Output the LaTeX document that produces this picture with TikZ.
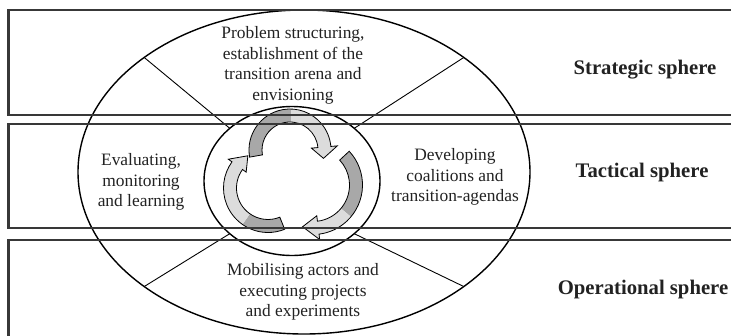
\documentclass[tikz,border=0pt]{standalone}
\usepackage{fontspec}
\setmainfont{Liberation Serif}
\usetikzlibrary{calc}

\definecolor{bandline}{HTML}{383838}
\definecolor{ribbondark}{HTML}{A8A8A8}
\definecolor{ribbonlight}{HTML}{DCDCDC}
\definecolor{inktext}{HTML}{222222}

\tikzset{
  band/.style={draw=bandline, line width=2.2pt},
  ring/.style={draw=black, line width=1.4pt},
  spoke/.style={draw=black, line width=0.9pt},
  ribbonedge/.style={draw=black, line width=0.8pt, line join=miter},
  phasetext/.style={align=center, text=inktext, inner sep=0pt,
    font=\fontsize{17.4}{20.5}\selectfont},
  spheretext/.style={text=inktext, inner sep=0pt,
    font=\fontsize{20.7}{24}\selectfont\bfseries},
}

% Curved two-tone ribbon arrow around a centre point.
% #1,#2 centre; #3 start angle; #4 colour change angle; #5 end of shaft;
% #6 angle of the tip; #7 mid radius; #8 half shaft width; #9 half head width
\newcommand{\ribbonarrow}[9]{%
  \begin{scope}[shift={(#1,#2)}]
    \fill[ribbondark] (#3:{#7+#8}) arc[start angle=#3, end angle=#4, radius={#7+#8}]
      -- (#4:{#7-#8}) arc[start angle=#4, end angle=#3, radius={#7-#8}] -- cycle;
    \fill[ribbonlight] (#4:{#7+#8}) arc[start angle=#4, end angle=#5, radius={#7+#8}]
      -- (#5:{#7+#9}) -- (#6:#7) -- (#5:{#7-#9}) -- (#5:{#7-#8})
      arc[start angle=#5, end angle=#4, radius={#7-#8}] -- cycle;
    \draw[ribbonedge] (#3:{#7+#8}) arc[start angle=#3, end angle=#5, radius={#7+#8}]
      -- (#5:{#7+#9}) -- (#6:#7) -- (#5:{#7-#9}) -- (#5:{#7-#8})
      arc[start angle=#5, end angle=#3, radius={#7-#8}] -- cycle;
  \end{scope}%
}

\begin{document}
\begin{tikzpicture}[x=1pt, y=1pt]
  \useasboundingbox (0,0) rectangle (731,-335);
  \fill[white] (0,0) rectangle (731,-335);
  \clip (0,0) rectangle (731,-335);

  % centres of the two ellipses
  \coordinate (outerC) at (304,-172);
  \coordinate (innerC) at (292,-181);

  % ellipses
  \draw[ring] (outerC) ellipse[x radius=226, y radius=162];
  \draw[ring] (innerC) ellipse[x radius=88, y radius=74.5];

  % spokes between the rings
  \foreach \a/\n in {45/ne, 135/nw, 225/sw, 315/se} {
    \coordinate (out\n) at ($(outerC)+(\a:226 and 162)$);
    \coordinate (in\n) at ($(innerC)+(\a:88 and 74.5)$);
    \draw[spoke] (in\n) -- (out\n);
  }

  % the cycle of three ribbon arrows
  \ribbonarrow{290}{-150}{190}{88}{5}{-14}{34.5}{6.5}{13}
  \ribbonarrow{313}{-185}{43}{-40}{-83}{-104}{43}{6.5}{12}
  \ribbonarrow{268}{-188}{-68}{-125}{-216}{-238}{38}{6.5}{11}

  % horizontal bands of the three spheres
  \draw[band] (8.5,-10) rectangle (760,-115);
  \draw[band] (8.5,-124) rectangle (760,-228);
  \draw[band] (8.5,-240) rectangle (760,-360);

  % phase texts
  \node[phasetext] (envision) at (293,-65.5)
    {Problem structuring,\\establishment of the\\transition arena and\\envisioning};
  \node[phasetext] (agenda) at (455,-177)
    {Developing\\coalitions and\\transition-agendas};
  \node[phasetext] (learning) at (141,-182)
    {Evaluating,\\monitoring\\and learning};
  \node[phasetext] (execute) at (303,-292)
    {Mobilising actors and\\executing projects\\and experiments};

  % sphere labels
  \node[spheretext] (strategic) at (645,-70) {Strategic sphere};
  \node[spheretext] (tactical) at (642,-173) {Tactical sphere};
  \node[spheretext] (operational) at (643,-290) {Operational sphere};
\end{tikzpicture}
\end{document}
